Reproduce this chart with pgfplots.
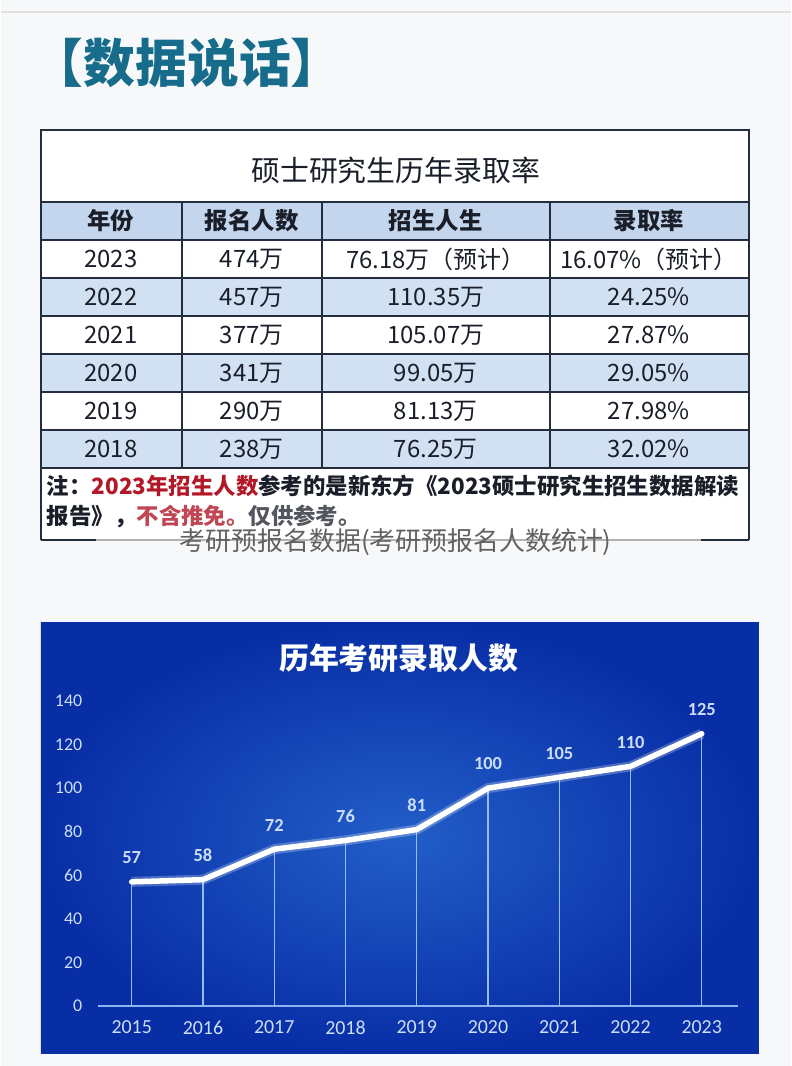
\documentclass[border=0pt]{standalone}
\usepackage{fontspec}
\usepackage{pgfplots}
\pgfplotsset{compat=1.18}
\setmainfont{Noto Sans CJK SC}
\newfontfamily\carlito{Carlito}
\definecolor{bgc}{RGB}{246,248,250}
\definecolor{tealc}{RGB}{22,108,138}
\definecolor{tline}{RGB}{35,45,62}
\definecolor{hfill}{RGB}{196,214,238}
\definecolor{rfill}{RGB}{210,224,243}
\definecolor{notered}{RGB}{178,24,40}
\definecolor{txt}{RGB}{25,30,40}
\definecolor{panelout}{RGB}{8,46,166}
\definecolor{panelin}{RGB}{34,94,200}
\definecolor{axisc}{RGB}{140,180,240}
\definecolor{labc}{RGB}{205,222,250}
\definecolor{dropc}{RGB}{150,188,245}
\newcommand{\fs}[1]{\fontsize{#1}{#1}\selectfont}
\begin{document}
\begin{tikzpicture}[x=1bp,y=1bp]
% background
\fill[bgc] (0,0) rectangle (790,-1066);
\draw[black!12, line width=1.5bp] (0,-12) -- (790,-12);
% header
\node[anchor=west, text=tealc, font=\fs{52}\bfseries, inner sep=0] at (31,-63) {【数据说话】};
% table
\fill[white] (40,-130) rectangle (748,-540);
\fill[hfill] (40,-202) rectangle (748,-240);
\foreach \y in {278,354,430} {\fill[rfill] (40,-\y) rectangle (748,-\y-38);}
\foreach \y in {202,240,278,316,354,392,430,468} {\draw[tline, line width=1.8bp] (40,-\y) -- (748,-\y);}
\foreach \x in {181,321,549} {\draw[tline, line width=1.8bp] (\x,-202) -- (\x,-468);}
\draw[tline, line width=2bp] (40,-540) -- (40,-130) -- (748,-130) -- (748,-540);
\draw[tline, line width=2bp] (40,-540) -- (95,-540);
\draw[tline, line width=2bp] (700,-540) -- (748,-540);
\draw[black!30, line width=1.5bp] (95,-540) -- (700,-540);
\node[text=txt, font=\fs{29}] at (395,-170) {硕士研究生历年录取率};
\begin{scope}[every node/.style={text=txt, font=\fs{23.5}\bfseries}]
\node at (110,-221) {年份};
\node at (251,-221) {报名人数};
\node at (435,-221) {招生人生};
\node at (648,-221) {录取率};
\end{scope}
\begin{scope}[every node/.style={text=txt, font=\fs{24}}]
\node at (110,-259) {2023}; \node at (251,-259) {474万}; \node at (435,-259) {76.18万（预计）}; \node at (648,-259) {16.07\%（预计）};
\node at (110,-297) {2022}; \node at (251,-297) {457万}; \node at (435,-297) {110.35万}; \node at (648,-297) {24.25\%};
\node at (110,-335) {2021}; \node at (251,-335) {377万}; \node at (435,-335) {105.07万}; \node at (648,-335) {27.87\%};
\node at (110,-373) {2020}; \node at (251,-373) {341万}; \node at (435,-373) {99.05万}; \node at (648,-373) {29.05\%};
\node at (110,-411) {2019}; \node at (251,-411) {290万}; \node at (435,-411) {81.13万}; \node at (648,-411) {27.98\%};
\node at (110,-449) {2018}; \node at (251,-449) {238万}; \node at (435,-449) {76.25万}; \node at (648,-449) {32.02\%};
\end{scope}
\node[anchor=west, inner sep=0, font=\fs{22.5}\bfseries, text=txt] at (46,-486) {注：\textcolor{notered}{2023年招生人数}参考的是新东方《2023硕士研究生招生数据解读};
\node[anchor=west, inner sep=0, font=\fs{22.5}\bfseries, text=txt] at (46,-516) {报告》，\textcolor{notered!80}{不含推免。}\textcolor{txt!75}{仅供参考。}};
% caption
\node[text=black!62, font=\fs{26}, inner sep=0] at (395,-542) {考研预报名数据(考研预报名人数统计)};
% panel
\shade[inner color=panelin, outer color=panelout] (40,-622) rectangle (758,-1053);
\node[text=white, font=\fs{30}\bfseries] at (398,-658) {历年考研录取人数};
\begin{axis}[
  at={(97bp,-1006bp)}, anchor=south west,
  scale only axis, width=640bp, height=305bp,
  xmin=2014.523, xmax=2023.505, ymin=0, ymax=140,
  axis lines*=left,
  y axis line style={draw=none},
  x axis line style={draw=axisc, line width=2.2bp},
  xtick={2015,...,2023}, ytick={0,20,...,140},
  major tick length=0pt,
  /pgf/number format/assume math mode=true,
  x tick label style={/pgf/number format/1000 sep={}, text=labc, font=\carlito\fs{20}, yshift=-11bp},
  y tick label style={text=labc, font=\carlito\fs{18}, xshift=-12bp},
  clip=false,
  nodes near coords,
  nodes near coords style={text=labc, font=\carlito\bfseries\fs{18.5}, anchor=south, yshift=12bp},
]
\addplot[ycomb, draw=dropc, line width=1.3bp, mark=none, nodes near coords=] coordinates {
(2015,57) (2016,58) (2017,72) (2018,76) (2019,81) (2020,100) (2021,105) (2022,110) (2023,125)};
\addplot[white, opacity=0.25, line width=10bp, line join=round, mark=none, nodes near coords=] coordinates {
(2015,57) (2016,58) (2017,72) (2018,76) (2019,81) (2020,100) (2021,105) (2022,110) (2023,125)};
\addplot[white, line width=5.5bp, line join=round, line cap=round, mark=none] coordinates {
(2015,57) (2016,58) (2017,72) (2018,76) (2019,81) (2020,100) (2021,105) (2022,110) (2023,125)};
\end{axis}
\end{tikzpicture}
\end{document}
